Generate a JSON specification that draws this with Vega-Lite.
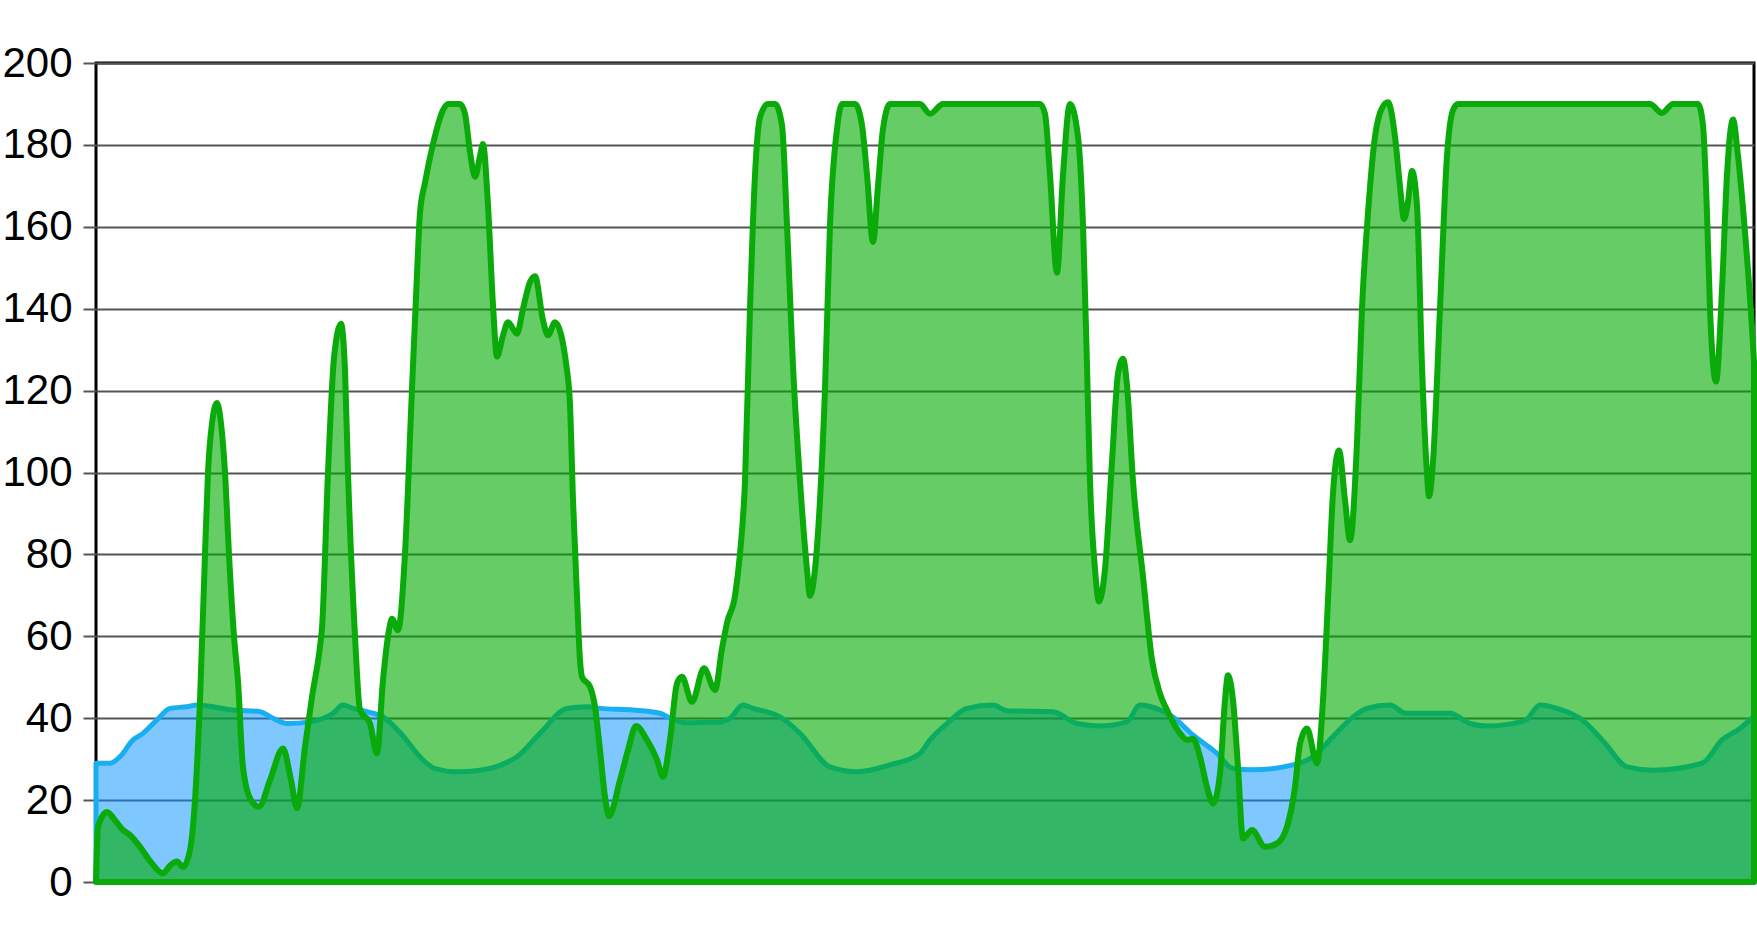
{
  "$schema": "https://vega.github.io/schema/vega-lite/v6.json",
  "width": 1658,
  "height": 819,
  "autosize": {"type": "none"},
  "padding": {"left": 96, "top": 63, "right": 3, "bottom": 45},
  "background": "#ffffff",
  "config": {
    "view": {"stroke": "#000000", "strokeWidth": 3},
    "axis": {"labelFont": "Liberation Sans", "labelFontSize": 42, "labelColor": "#000000"}
  },
  "datasets": {
    "blue": [
      {"t": 96, "v": 29}, {"t": 110, "v": 29}, {"t": 120, "v": 30.6}, {"t": 133, "v": 34.7}, {"t": 143, "v": 36.3},
      {"t": 157, "v": 39.6}, {"t": 170, "v": 42.4}, {"t": 187, "v": 42.8}, {"t": 197, "v": 43.2}, {"t": 233, "v": 42},
      {"t": 260, "v": 41.6}, {"t": 273, "v": 40}, {"t": 287, "v": 38.7}, {"t": 310, "v": 39.1}, {"t": 333, "v": 41.2},
      {"t": 343, "v": 43.2}, {"t": 353, "v": 42.4}, {"t": 367, "v": 41.6}, {"t": 383, "v": 40.3}, {"t": 400, "v": 36.5},
      {"t": 423, "v": 29.8}, {"t": 435, "v": 27.7}, {"t": 457, "v": 26.9}, {"t": 480, "v": 27.3}, {"t": 500, "v": 28.5},
      {"t": 517, "v": 30.6}, {"t": 540, "v": 36.3}, {"t": 567, "v": 42.4}, {"t": 587, "v": 42.8}, {"t": 600, "v": 42.4},
      {"t": 633, "v": 42}, {"t": 660, "v": 41.2}, {"t": 670, "v": 40}, {"t": 687, "v": 38.9}, {"t": 720, "v": 39.1},
      {"t": 730, "v": 40}, {"t": 743, "v": 43.2}, {"t": 753, "v": 42.4}, {"t": 780, "v": 40.3}, {"t": 800, "v": 36.3},
      {"t": 830, "v": 28.1}, {"t": 857, "v": 26.9}, {"t": 890, "v": 28.6}, {"t": 920, "v": 31.4}, {"t": 930, "v": 34.7},
      {"t": 947, "v": 38.7}, {"t": 967, "v": 42.4}, {"t": 993, "v": 43.2}, {"t": 1007, "v": 41.8}, {"t": 1053, "v": 41.6},
      {"t": 1077, "v": 38.7}, {"t": 1100, "v": 38.1}, {"t": 1127, "v": 39.1}, {"t": 1140, "v": 43.2}, {"t": 1160, "v": 42},
      {"t": 1173, "v": 40.3}, {"t": 1193, "v": 35.9}, {"t": 1217, "v": 31.4}, {"t": 1233, "v": 27.7}, {"t": 1253, "v": 27.4},
      {"t": 1293, "v": 28.6}, {"t": 1313, "v": 30.6}, {"t": 1333, "v": 35.5}, {"t": 1353, "v": 40.3}, {"t": 1367, "v": 42.4},
      {"t": 1390, "v": 43.2}, {"t": 1406, "v": 41.2}, {"t": 1450, "v": 41.2}, {"t": 1470, "v": 38.7}, {"t": 1487, "v": 38.1},
      {"t": 1525, "v": 39.4}, {"t": 1540, "v": 43.2}, {"t": 1557, "v": 42.4}, {"t": 1582, "v": 39.6}, {"t": 1604, "v": 34.2},
      {"t": 1627, "v": 28.1}, {"t": 1653, "v": 27.3}, {"t": 1702, "v": 29}, {"t": 1722, "v": 34.7}, {"t": 1740, "v": 37.5},
      {"t": 1754, "v": 40.5}
    ],
    "green": [
      {"t": 96, "v": 0}, {"t": 98, "v": 13.5}, {"t": 107, "v": 17.1}, {"t": 115, "v": 15.1}, {"t": 123, "v": 12.7},
      {"t": 130, "v": 11.5}, {"t": 140, "v": 8.6}, {"t": 152, "v": 4.5}, {"t": 163, "v": 2.1}, {"t": 170, "v": 4},
      {"t": 177, "v": 5}, {"t": 183, "v": 3.7}, {"t": 190, "v": 7.8}, {"t": 195, "v": 20}, {"t": 200, "v": 44.4},
      {"t": 205, "v": 80}, {"t": 208, "v": 100}, {"t": 212, "v": 112}, {"t": 217, "v": 117}, {"t": 221, "v": 112},
      {"t": 225, "v": 100}, {"t": 229, "v": 80}, {"t": 234, "v": 60}, {"t": 238, "v": 49}, {"t": 243, "v": 28},
      {"t": 251, "v": 20}, {"t": 259, "v": 18.4}, {"t": 270, "v": 24.9}, {"t": 283, "v": 32.6}, {"t": 291, "v": 24.9},
      {"t": 297, "v": 18}, {"t": 305, "v": 33}, {"t": 312, "v": 45.2}, {"t": 320, "v": 57.5}, {"t": 322, "v": 62},
      {"t": 328, "v": 100}, {"t": 334, "v": 128}, {"t": 341, "v": 136.3}, {"t": 345, "v": 125}, {"t": 348, "v": 100},
      {"t": 355, "v": 60}, {"t": 360, "v": 42}, {"t": 370, "v": 38.7}, {"t": 377, "v": 31.4}, {"t": 383, "v": 49.3},
      {"t": 389, "v": 61.5}, {"t": 392, "v": 64.3}, {"t": 398, "v": 61.5}, {"t": 405, "v": 80.2}, {"t": 412, "v": 120.4},
      {"t": 417, "v": 148.4}, {"t": 420, "v": 163.4}, {"t": 425, "v": 170.8}, {"t": 433, "v": 180.2}, {"t": 443, "v": 188.5},
      {"t": 448, "v": 190}, {"t": 460, "v": 190}, {"t": 465, "v": 187.6}, {"t": 470, "v": 178.3}, {"t": 475, "v": 172.2},
      {"t": 480, "v": 177.3}, {"t": 483, "v": 180.2}, {"t": 488, "v": 165.2}, {"t": 493, "v": 140.9}, {"t": 497, "v": 128.3},
      {"t": 503, "v": 133.5}, {"t": 508, "v": 136.7}, {"t": 517, "v": 133.9}, {"t": 523, "v": 140}, {"t": 530, "v": 146.5},
      {"t": 535, "v": 147.9}, {"t": 543, "v": 137.2}, {"t": 548, "v": 133.5}, {"t": 555, "v": 136.7}, {"t": 567, "v": 125},
      {"t": 570, "v": 116.6}, {"t": 573, "v": 93.3}, {"t": 577, "v": 69.9}, {"t": 580, "v": 54.2}, {"t": 582, "v": 50.1},
      {"t": 590, "v": 47.7}, {"t": 595, "v": 42.8}, {"t": 600, "v": 32.2}, {"t": 605, "v": 20.8}, {"t": 609, "v": 16.1},
      {"t": 620, "v": 24.9}, {"t": 628, "v": 32.2}, {"t": 636, "v": 38.1}, {"t": 647, "v": 34.7}, {"t": 657, "v": 29.8},
      {"t": 663, "v": 25.7}, {"t": 670, "v": 34.7}, {"t": 677, "v": 48.5}, {"t": 682, "v": 50.1}, {"t": 692, "v": 44},
      {"t": 704, "v": 52.2}, {"t": 715, "v": 46.9}, {"t": 722, "v": 57}, {"t": 727, "v": 63.3}, {"t": 735, "v": 69.9},
      {"t": 740, "v": 80.2}, {"t": 745, "v": 97.9}, {"t": 750, "v": 140}, {"t": 755, "v": 172.7}, {"t": 760, "v": 186.7},
      {"t": 768, "v": 190}, {"t": 775, "v": 190}, {"t": 782, "v": 184.8}, {"t": 787, "v": 160.5}, {"t": 793, "v": 126},
      {"t": 800, "v": 97.9}, {"t": 807, "v": 76.4}, {"t": 810, "v": 69.9}, {"t": 815, "v": 76.4}, {"t": 820, "v": 93.3},
      {"t": 825, "v": 120.4}, {"t": 830, "v": 160.5}, {"t": 837, "v": 183.9}, {"t": 842, "v": 190}, {"t": 855, "v": 190},
      {"t": 862, "v": 184.8}, {"t": 867, "v": 172.7}, {"t": 873, "v": 156.3}, {"t": 878, "v": 170}, {"t": 883, "v": 183.9},
      {"t": 890, "v": 190}, {"t": 920, "v": 190}, {"t": 930, "v": 187.6}, {"t": 943, "v": 190}, {"t": 1040, "v": 190},
      {"t": 1045, "v": 187.6}, {"t": 1050, "v": 172.7}, {"t": 1057, "v": 148.8}, {"t": 1063, "v": 172.7}, {"t": 1070, "v": 190},
      {"t": 1078, "v": 182}, {"t": 1083, "v": 160.5}, {"t": 1087, "v": 126}, {"t": 1090, "v": 97.9}, {"t": 1095, "v": 76.4},
      {"t": 1099, "v": 68.5}, {"t": 1105, "v": 76.4}, {"t": 1112, "v": 102.6}, {"t": 1118, "v": 124.1}, {"t": 1123, "v": 127.8},
      {"t": 1127, "v": 121.3}, {"t": 1133, "v": 97.9}, {"t": 1143, "v": 74.6}, {"t": 1152, "v": 54.2}, {"t": 1160, "v": 46},
      {"t": 1167, "v": 42}, {"t": 1180, "v": 36.3}, {"t": 1187, "v": 34.7}, {"t": 1193, "v": 35}, {"t": 1200, "v": 30.6},
      {"t": 1207, "v": 23.2}, {"t": 1213, "v": 19.2}, {"t": 1220, "v": 26.5}, {"t": 1225, "v": 44.4}, {"t": 1228, "v": 50.5},
      {"t": 1233, "v": 44.4}, {"t": 1238, "v": 28.1}, {"t": 1243, "v": 10.6}, {"t": 1252, "v": 12.7}, {"t": 1265, "v": 8.6},
      {"t": 1277, "v": 9.4}, {"t": 1287, "v": 13.5}, {"t": 1295, "v": 23.2}, {"t": 1300, "v": 33.8}, {"t": 1307, "v": 37.5},
      {"t": 1317, "v": 29}, {"t": 1323, "v": 44.4}, {"t": 1328, "v": 68.9}, {"t": 1333, "v": 95}, {"t": 1339, "v": 105.4},
      {"t": 1345, "v": 93.3}, {"t": 1350, "v": 83.5}, {"t": 1357, "v": 107.3}, {"t": 1362, "v": 140}, {"t": 1368, "v": 163.3},
      {"t": 1375, "v": 182}, {"t": 1382, "v": 189}, {"t": 1388, "v": 190.4}, {"t": 1395, "v": 182}, {"t": 1400, "v": 169.9},
      {"t": 1404, "v": 161.9}, {"t": 1408, "v": 166.1}, {"t": 1412, "v": 173.6}, {"t": 1417, "v": 165.2}, {"t": 1422, "v": 126},
      {"t": 1427, "v": 99.8}, {"t": 1429, "v": 94.2}, {"t": 1433, "v": 102.6}, {"t": 1440, "v": 140}, {"t": 1447, "v": 177.3},
      {"t": 1453, "v": 188.5}, {"t": 1458, "v": 190}, {"t": 1650, "v": 190}, {"t": 1662, "v": 187.8}, {"t": 1673, "v": 190},
      {"t": 1698, "v": 190}, {"t": 1703, "v": 184.8}, {"t": 1707, "v": 163.3}, {"t": 1710, "v": 140}, {"t": 1716, "v": 122.2},
      {"t": 1722, "v": 144.7}, {"t": 1727, "v": 172.7}, {"t": 1733, "v": 186.2}, {"t": 1738, "v": 177.3}, {"t": 1745, "v": 158.7},
      {"t": 1752, "v": 135.3}, {"t": 1754, "v": 127}
    ]
  },
  "encoding": {
    "x": {"field": "t", "type": "quantitative", "scale": {"domain": [96, 1754], "nice": false, "zero": false}, "axis": null},
    "y": {"field": "v", "type": "quantitative", "scale": {"domain": [0, 200], "nice": false},
      "axis": {"title": null, "values": [0, 20, 40, 60, 80, 100, 120, 140, 160, 180, 200], "grid": true, "gridColor": "#555555", "gridWidth": 2, "gridOpacity": 1,
        "domain": false, "ticks": true, "tickColor": "#555555", "tickWidth": 2, "tickSize": 13, "labelPadding": 11}}
  },
  "layer": [
    {"data": {"name": "blue"}, "mark": {"type": "area", "interpolate": "monotone", "fill": "#0091ff", "fillOpacity": 0.5, "stroke": "#19aef0", "strokeWidth": 5, "strokeJoin": "round"}},
    {"data": {"name": "green"}, "mark": {"type": "area", "interpolate": "monotone", "fill": "#00aa00", "fillOpacity": 0.6, "stroke": "#0aaa0a", "strokeWidth": 6, "strokeJoin": "round"}}
  ]
}
